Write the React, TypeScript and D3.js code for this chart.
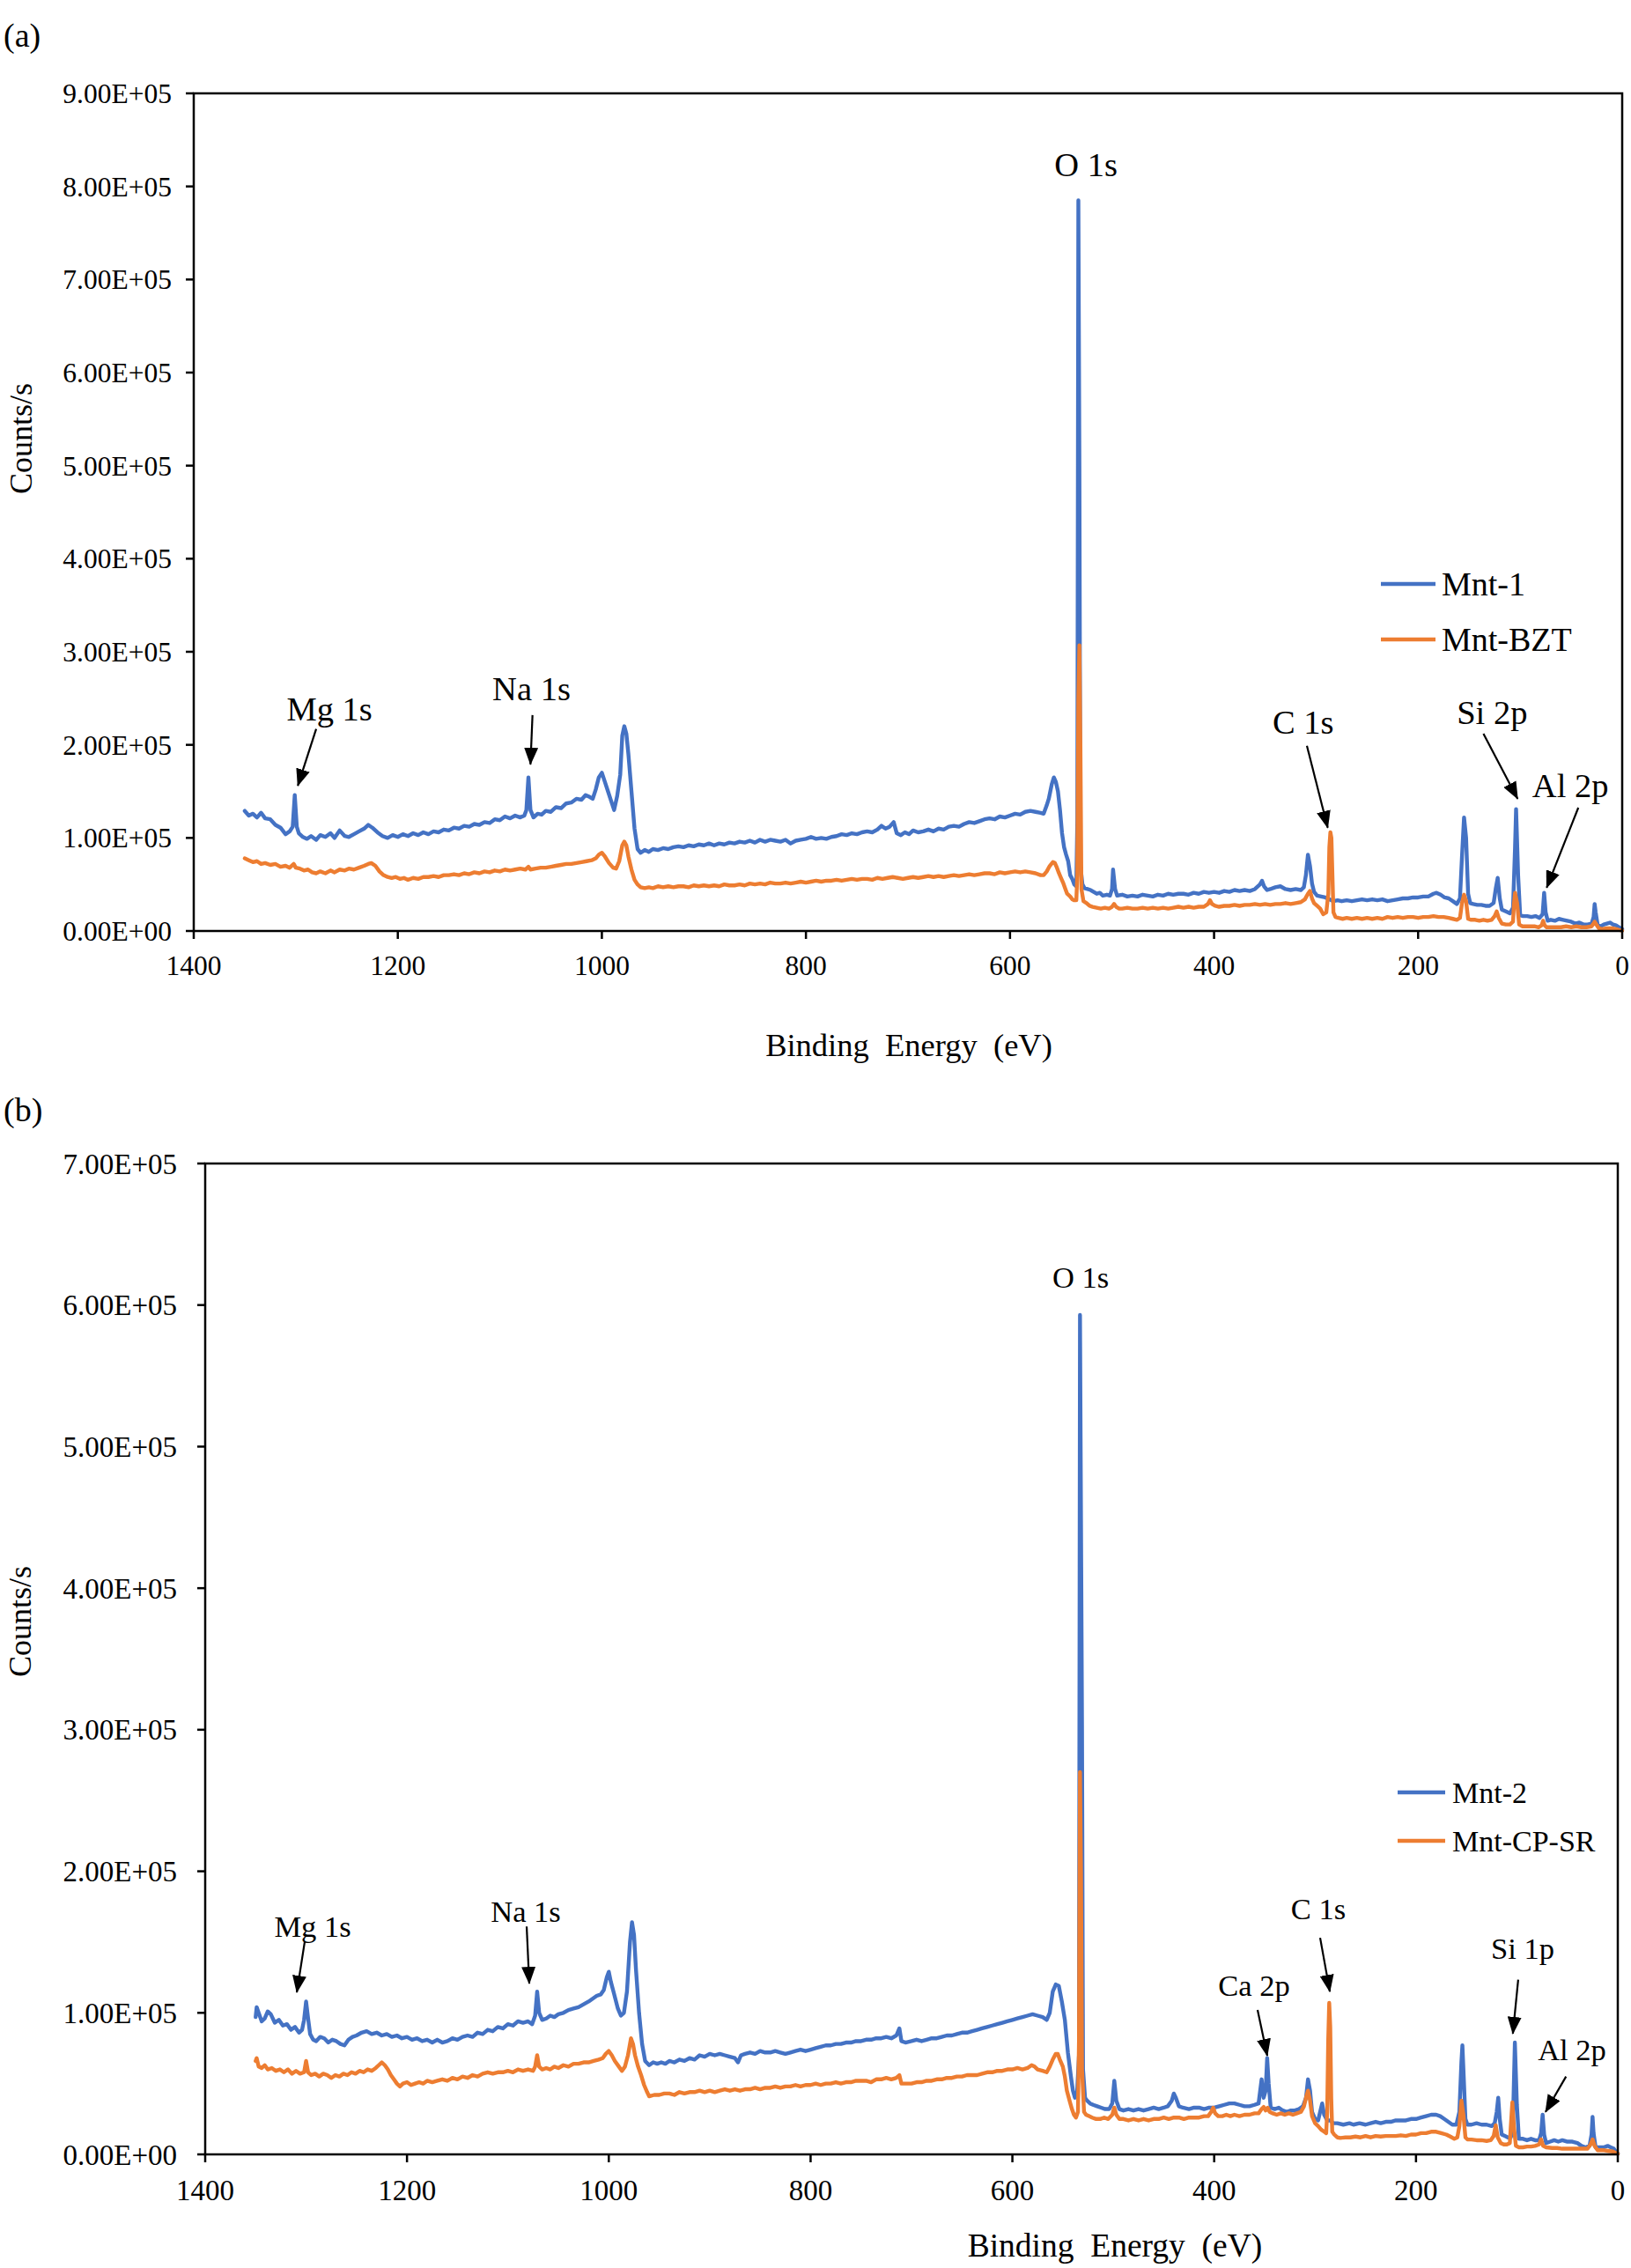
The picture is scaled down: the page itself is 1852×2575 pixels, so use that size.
import React from 'react';
import * as d3 from 'd3';

type Pt = [number, number]; // [binding energy (eV), counts/s in thousands]

// ---- panel (a) ----
const mnt1: Pt[] = [
  [1350, 129], [1346, 124], [1342, 126], [1338, 122], [1334, 127], [1330, 121], [1325, 120], [1320, 114], [1315, 111], [1310, 104],
  [1306, 107], [1303, 112], [1301, 146], [1299, 112], [1297, 105], [1293, 101], [1289, 99], [1285, 102], [1280, 98], [1276, 103],
  [1271, 101], [1266, 105], [1262, 100], [1257, 108], [1252, 102], [1248, 101], [1243, 104], [1238, 107], [1233, 110], [1229, 114],
  [1225, 111], [1220, 106], [1215, 102], [1210, 100], [1205, 103], [1200, 101], [1195, 104], [1190, 102], [1185, 105], [1180, 103],
  [1175, 106], [1170, 104], [1165, 107], [1160, 106], [1155, 109], [1150, 108], [1145, 111], [1140, 110], [1135, 113], [1130, 112],
  [1125, 115], [1120, 114], [1115, 117], [1110, 116], [1105, 120], [1100, 119], [1095, 123], [1090, 121], [1085, 124], [1080, 122],
  [1076, 124], [1074, 130], [1072, 165], [1070, 130], [1067, 122], [1063, 126], [1059, 125], [1055, 129], [1050, 128], [1045, 133],
  [1040, 132], [1035, 137], [1030, 138], [1025, 142], [1020, 141], [1016, 146], [1012, 144], [1009, 142], [1006, 152], [1003, 165],
  [1000, 170], [997, 160], [994, 150], [991, 140], [988, 130], [985, 145], [982, 168], [980, 210], [978, 220], [976, 212],
  [974, 190], [971, 150], [968, 110], [965, 88], [962, 84], [958, 87], [954, 85], [950, 88], [945, 87], [940, 89],
  [935, 88], [930, 90], [925, 91], [920, 90], [915, 92], [910, 91], [905, 93], [900, 92], [895, 94], [890, 92],
  [885, 94], [880, 93], [875, 95], [870, 94], [865, 96], [860, 95], [855, 97], [850, 95], [845, 98], [840, 96],
  [835, 98], [830, 97], [825, 96], [820, 98], [815, 94], [810, 97], [805, 98], [800, 99], [795, 101], [790, 99],
  [785, 100], [780, 99], [775, 101], [770, 102], [765, 104], [760, 103], [755, 105], [750, 104], [745, 106], [740, 107],
  [735, 106], [730, 109], [726, 113], [722, 110], [718, 112], [714, 117], [711, 105], [707, 103], [703, 106], [699, 104],
  [695, 108], [690, 106], [685, 107], [680, 109], [675, 107], [670, 110], [665, 109], [660, 112], [655, 113], [650, 112],
  [645, 115], [640, 117], [635, 116], [630, 118], [625, 120], [620, 121], [615, 120], [610, 123], [605, 122], [600, 124],
  [595, 126], [590, 125], [585, 128], [580, 129], [575, 128], [570, 127], [567, 126], [564, 135], [562, 142], [559, 158],
  [557, 165], [555, 160], [553, 150], [551, 130], [549, 105], [547, 90], [545, 82], [543, 75], [541, 60], [539, 56],
  [537, 50], [535, 48], [534, 120], [533, 785], [532, 500], [531, 70], [529, 50], [527, 46], [524, 45], [521, 44],
  [518, 42], [515, 40], [512, 41], [509, 38], [505, 39], [502, 38], [500, 45], [499, 66], [497, 45], [495, 38],
  [490, 39], [485, 37], [480, 38], [475, 37], [470, 39], [465, 38], [460, 37], [455, 39], [450, 38], [445, 40],
  [440, 39], [435, 40], [430, 40], [425, 39], [420, 41], [415, 40], [410, 42], [405, 41], [400, 42], [395, 41],
  [390, 43], [385, 42], [380, 44], [375, 43], [370, 44], [365, 43], [360, 45], [355, 50], [353, 54], [351, 48],
  [348, 44], [345, 45], [340, 47], [335, 48], [330, 45], [325, 44], [320, 45], [315, 44], [312, 47], [310, 60],
  [308, 82], [306, 70], [304, 51], [302, 42], [299, 38], [295, 37], [291, 36], [287, 34], [283, 32], [279, 33],
  [275, 32], [270, 33], [265, 32], [260, 33], [255, 34], [250, 33], [245, 34], [240, 33], [235, 34], [230, 32],
  [225, 33], [220, 34], [215, 35], [210, 35], [205, 36], [200, 36], [195, 37], [190, 37], [185, 40], [182, 41],
  [178, 39], [174, 36], [170, 35], [166, 32], [162, 29], [159, 35], [157, 80], [155, 122], [153, 100], [151, 40],
  [149, 30], [146, 29], [142, 28], [138, 28], [134, 27], [130, 27], [126, 30], [124, 45], [122, 57], [120, 35],
  [118, 23], [114, 21], [110, 19], [107, 25], [105, 90], [104, 131], [102, 60], [100, 17], [97, 16], [93, 16],
  [89, 15], [85, 16], [81, 14], [78, 18], [76.5, 41], [75, 20], [73, 11], [70, 12], [66, 11], [62, 13],
  [58, 12], [54, 11], [50, 10], [46, 8], [42, 9], [38, 7], [34, 7], [30, 8], [28, 15], [27, 29],
  [26, 20], [24, 6], [21, 5], [18, 7], [15, 8], [12, 9], [9, 7], [6, 6], [3, 4], [0, 2],
];

const mntBZT: Pt[] = [
  [1350, 78], [1346, 76], [1342, 74], [1338, 75], [1334, 72], [1330, 73], [1325, 71], [1320, 72], [1315, 69], [1310, 70],
  [1306, 68], [1302, 72], [1300, 68], [1296, 67], [1292, 65], [1288, 66], [1284, 63], [1280, 62], [1276, 64], [1271, 62],
  [1266, 65], [1262, 63], [1257, 66], [1252, 65], [1248, 67], [1243, 66], [1238, 68], [1233, 70], [1229, 72], [1226, 73],
  [1222, 70], [1218, 64], [1214, 60], [1210, 58], [1206, 57], [1202, 58], [1198, 56], [1194, 57], [1190, 55], [1185, 57],
  [1180, 56], [1175, 58], [1170, 58], [1165, 59], [1160, 58], [1155, 60], [1150, 60], [1145, 61], [1140, 60], [1135, 62],
  [1130, 61], [1125, 63], [1120, 62], [1115, 64], [1110, 63], [1105, 65], [1100, 64], [1095, 66], [1090, 65], [1085, 66],
  [1080, 67], [1075, 66], [1072, 69], [1070, 66], [1065, 67], [1060, 68], [1055, 68], [1050, 69], [1045, 70], [1040, 71],
  [1035, 72], [1030, 72], [1025, 73], [1020, 74], [1015, 75], [1010, 76], [1006, 78], [1003, 82], [1000, 84], [997, 80],
  [993, 73], [989, 68], [986, 67], [983, 75], [980, 92], [978, 96], [976, 92], [974, 80], [971, 66], [968, 55],
  [965, 50], [962, 47], [958, 46], [954, 47], [950, 46], [945, 48], [940, 47], [935, 48], [930, 47], [925, 48],
  [920, 48], [915, 47], [910, 49], [905, 48], [900, 49], [895, 48], [890, 49], [885, 48], [880, 50], [875, 49],
  [870, 49], [865, 50], [860, 49], [855, 51], [850, 50], [845, 51], [840, 50], [835, 52], [830, 51], [825, 51],
  [820, 52], [815, 51], [810, 52], [805, 53], [800, 52], [795, 53], [790, 54], [785, 53], [780, 54], [775, 54],
  [770, 55], [765, 54], [760, 55], [755, 56], [750, 55], [745, 56], [740, 56], [735, 55], [730, 57], [725, 56],
  [720, 57], [715, 58], [710, 57], [705, 56], [700, 57], [695, 58], [690, 57], [685, 58], [680, 59], [675, 58],
  [670, 59], [665, 58], [660, 59], [655, 60], [650, 59], [645, 60], [640, 61], [635, 60], [630, 61], [625, 62],
  [620, 62], [615, 61], [610, 63], [605, 62], [600, 63], [595, 64], [590, 63], [585, 64], [580, 63], [575, 62],
  [570, 60], [567, 60], [564, 64], [561, 70], [558, 74], [556, 73], [554, 68], [552, 62], [550, 57], [548, 52],
  [546, 46], [544, 40], [541, 37], [539, 34], [537, 33], [535, 33], [534, 60], [533, 250], [532, 307], [531, 200],
  [530, 45], [528, 32], [525, 30], [522, 27], [519, 26], [515, 25], [511, 24], [507, 25], [503, 24], [500, 26],
  [498, 29], [496, 26], [493, 24], [490, 24], [485, 25], [480, 24], [475, 24], [470, 25], [465, 24], [460, 25],
  [455, 24], [450, 25], [445, 24], [440, 25], [435, 26], [430, 25], [425, 26], [420, 25], [415, 26], [410, 26],
  [406, 29], [404, 33], [402, 29], [399, 27], [395, 26], [390, 27], [385, 27], [380, 28], [375, 27], [370, 28],
  [365, 28], [360, 29], [355, 28], [350, 29], [345, 28], [340, 29], [335, 29], [330, 30], [325, 29], [320, 30],
  [315, 31], [311, 34], [308, 40], [306, 43], [304, 35], [302, 30], [299, 27], [296, 24], [293, 18], [290, 20],
  [288, 40], [287, 90], [286, 106], [285, 100], [284, 60], [283, 20], [281, 15], [278, 14], [274, 13], [270, 14],
  [265, 13], [260, 14], [255, 13], [250, 14], [245, 13], [240, 14], [235, 13], [230, 15], [225, 14], [220, 15],
  [215, 14], [210, 15], [205, 15], [200, 14], [195, 15], [190, 15], [185, 16], [180, 15], [175, 15], [170, 14],
  [166, 13], [162, 12], [159, 14], [157, 30], [155, 39], [153, 32], [151, 13], [148, 12], [144, 12], [140, 11],
  [136, 12], [132, 11], [128, 12], [125, 16], [123, 21], [121, 14], [118, 8], [114, 7], [110, 7], [107, 10],
  [106, 30], [105, 41], [103, 30], [101, 7], [98, 5], [94, 5], [90, 5], [86, 5], [82, 4], [79, 6],
  [77.5, 11], [76, 6], [74, 4], [70, 4], [66, 4], [60, 4], [55, 5], [50, 4], [45, 5], [40, 4],
  [35, 4], [30, 5], [28, 8], [27, 10], [26, 8], [23, 3], [20, 2], [15, 3], [10, 3], [6, 2], [3, 1], [0, 0.5],
];

// ---- panel (b) ----
const mnt2: Pt[] = [
  [1350, 97], [1349, 104], [1347, 100], [1344, 94], [1341, 96], [1338, 101], [1335, 99], [1331, 93], [1327, 95], [1323, 91],
  [1319, 92], [1315, 88], [1311, 90], [1307, 86], [1304, 88], [1302, 95], [1300, 108], [1298, 96], [1296, 85], [1293, 81],
  [1290, 80], [1286, 83], [1282, 82], [1278, 79], [1274, 81], [1270, 80], [1266, 78], [1262, 77], [1258, 81], [1254, 83],
  [1250, 84], [1245, 86], [1240, 87], [1235, 85], [1230, 86], [1225, 84], [1220, 85], [1215, 83], [1210, 84], [1205, 82],
  [1200, 83], [1195, 81], [1190, 82], [1185, 80], [1180, 81], [1175, 79], [1170, 81], [1165, 79], [1160, 80], [1155, 82],
  [1150, 81], [1145, 83], [1140, 84], [1135, 83], [1130, 86], [1125, 85], [1120, 88], [1115, 87], [1110, 90], [1105, 89],
  [1100, 92], [1095, 91], [1090, 94], [1085, 93], [1080, 94], [1076, 92], [1073, 98], [1071, 115], [1069, 100], [1066, 95],
  [1062, 96], [1058, 98], [1054, 97], [1050, 99], [1045, 100], [1040, 102], [1035, 103], [1030, 104], [1025, 106], [1020, 108],
  [1016, 110], [1012, 112], [1008, 113], [1005, 116], [1002, 125], [1000, 129], [998, 122], [995, 114], [991, 103], [988, 98],
  [985, 100], [982, 115], [979, 150], [977, 164], [975, 155], [973, 130], [970, 100], [967, 78], [964, 66], [960, 63],
  [956, 65], [952, 64], [948, 65], [944, 64], [940, 66], [935, 65], [930, 67], [925, 66], [920, 68], [915, 67],
  [910, 70], [905, 69], [900, 71], [895, 70], [890, 71], [885, 70], [880, 69], [875, 68], [872, 65], [869, 70],
  [865, 71], [860, 72], [855, 71], [850, 73], [845, 72], [840, 72], [835, 73], [830, 72], [825, 71], [820, 72],
  [815, 73], [810, 74], [805, 73], [800, 74], [795, 75], [790, 76], [785, 77], [780, 77], [775, 78], [770, 78],
  [765, 79], [760, 79], [755, 80], [750, 80], [745, 81], [740, 81], [735, 82], [730, 82], [725, 83], [720, 82],
  [715, 84], [712, 89], [710, 80], [706, 79], [700, 80], [695, 81], [690, 80], [685, 81], [680, 82], [675, 82],
  [670, 83], [665, 84], [660, 84], [655, 85], [650, 86], [645, 86], [640, 87], [635, 88], [630, 89], [625, 90],
  [620, 91], [615, 92], [610, 93], [605, 94], [600, 95], [595, 96], [590, 97], [585, 98], [580, 99], [575, 98],
  [570, 97], [566, 95], [563, 100], [560, 115], [557, 120], [554, 119], [551, 108], [548, 95], [545, 72], [542, 55],
  [540, 45], [538, 40], [536, 42], [534, 70], [533, 593], [531, 300], [530, 60], [528, 40], [526, 38], [523, 36],
  [520, 35], [516, 34], [512, 33], [508, 32], [504, 32], [501, 36], [499, 52], [497, 38], [494, 32], [490, 31],
  [485, 32], [480, 31], [475, 32], [470, 31], [465, 32], [460, 33], [455, 32], [450, 33], [446, 34], [442, 38],
  [440, 43], [438, 40], [435, 34], [431, 33], [425, 32], [420, 33], [415, 33], [410, 32], [405, 33], [400, 33],
  [395, 34], [390, 35], [385, 36], [380, 36], [375, 35], [370, 34], [365, 34], [360, 35], [356, 36], [353, 53],
  [351, 40], [349, 45], [347.5, 68], [346, 50], [344, 33], [340, 32], [336, 33], [332, 31], [328, 30], [324, 31],
  [320, 31], [316, 32], [312, 34], [309, 40], [307, 53], [305, 45], [303, 30], [300, 25], [297, 24], [295, 30],
  [293, 36], [291, 28], [288, 24], [285, 24], [282, 22], [278, 22], [272, 21], [266, 22], [262, 21], [256, 22],
  [250, 21], [245, 22], [240, 23], [235, 22], [230, 23], [225, 23], [220, 24], [215, 24], [210, 24], [205, 25],
  [200, 25], [195, 26], [190, 27], [185, 28], [180, 28], [176, 27], [172, 25], [168, 23], [164, 21], [160, 21],
  [157, 30], [155, 65], [154, 77], [153, 60], [151, 25], [149, 21], [145, 21], [140, 22], [135, 21], [130, 21],
  [125, 20], [122, 22], [120, 30], [118.5, 40], [117, 25], [115, 14], [112, 13], [109, 12], [106, 12], [104, 20],
  [102, 79], [100, 35], [98, 11], [94, 11], [90, 10], [86, 11], [82, 10], [78, 10], [76, 15], [74.5, 28],
  [73, 14], [71, 8], [67, 9], [63, 10], [59, 9], [55, 10], [50, 9], [45, 9], [40, 8], [36, 6],
  [32, 5], [28, 6], [26, 14], [25, 26.5], [24, 15], [22, 5], [18, 5], [14, 5], [10, 6], [7, 5], [4, 4], [2, 2], [0, 0.5],
];

const mntCPSR: Pt[] = [
  [1350, 66], [1349, 68], [1347, 62], [1344, 61], [1341, 63], [1338, 60], [1334, 61], [1330, 59], [1326, 60], [1322, 58],
  [1318, 60], [1314, 57], [1310, 59], [1306, 57], [1302, 58], [1300, 66], [1298, 58], [1295, 56], [1291, 57], [1287, 55],
  [1283, 57], [1279, 56], [1275, 54], [1271, 56], [1267, 55], [1263, 57], [1259, 56], [1255, 58], [1251, 57], [1247, 59],
  [1243, 58], [1239, 60], [1235, 59], [1231, 61], [1228, 63], [1225, 65], [1222, 63], [1219, 60], [1216, 56], [1213, 53],
  [1210, 50], [1207, 48], [1204, 50], [1200, 51], [1196, 49], [1192, 50], [1188, 51], [1184, 50], [1180, 52], [1175, 51],
  [1170, 52], [1165, 53], [1160, 52], [1155, 54], [1150, 53], [1145, 55], [1140, 54], [1135, 56], [1130, 55], [1125, 57],
  [1120, 58], [1115, 57], [1110, 58], [1105, 58], [1100, 59], [1095, 58], [1090, 60], [1085, 59], [1080, 60], [1075, 59],
  [1073, 62], [1071, 70], [1069, 62], [1066, 60], [1062, 61], [1058, 60], [1054, 62], [1050, 61], [1045, 63], [1040, 62],
  [1035, 64], [1030, 64], [1025, 65], [1020, 65], [1015, 66], [1010, 67], [1006, 68], [1003, 71], [1000, 73], [997, 70],
  [994, 66], [990, 62], [987, 59], [984, 62], [981, 70], [978, 82], [976, 78], [974, 70], [971, 62], [968, 56],
  [965, 49], [962, 44], [960, 41], [955, 42], [950, 42], [945, 43], [940, 43], [935, 42], [930, 44], [925, 43],
  [920, 44], [915, 44], [910, 45], [905, 44], [900, 45], [895, 44], [890, 45], [885, 46], [880, 45], [875, 46],
  [870, 45], [865, 46], [860, 46], [855, 47], [850, 46], [845, 47], [840, 47], [835, 48], [830, 47], [825, 48],
  [820, 48], [815, 49], [810, 48], [805, 49], [800, 49], [795, 50], [790, 49], [785, 50], [780, 50], [775, 51],
  [770, 50], [765, 51], [760, 51], [755, 52], [750, 52], [745, 52], [740, 51], [735, 53], [730, 53], [725, 54],
  [720, 53], [715, 54], [712, 56], [710, 50], [706, 50], [700, 50], [695, 51], [690, 51], [685, 52], [680, 52],
  [675, 53], [670, 53], [665, 54], [660, 54], [655, 55], [650, 55], [645, 56], [640, 56], [635, 56], [630, 57],
  [625, 58], [620, 58], [615, 59], [610, 59], [605, 60], [600, 60], [595, 61], [590, 60], [585, 61], [581, 63],
  [578, 62], [575, 60], [570, 59], [566, 58], [563, 62], [560, 67], [557, 71], [555, 71], [553, 67], [550, 62],
  [548, 55], [546, 45], [543, 37], [541, 32], [539, 28], [537, 26], [535, 30], [534, 80], [533, 270], [532, 200],
  [531, 60], [529, 30], [527, 28], [524, 27], [521, 26], [517, 25], [513, 25], [509, 26], [505, 25], [501, 28],
  [499, 33], [497, 28], [494, 25], [490, 25], [485, 24], [480, 25], [475, 24], [470, 25], [465, 24], [460, 25],
  [455, 25], [450, 26], [445, 25], [440, 26], [435, 26], [430, 25], [425, 26], [420, 26], [415, 26], [410, 27],
  [406, 27], [403, 30], [401, 33], [399, 29], [396, 27], [392, 27], [388, 28], [384, 27], [380, 28], [375, 27],
  [370, 28], [365, 28], [360, 29], [356, 29], [353, 32], [351, 33.5], [349, 31], [347, 33], [345, 30], [342, 29],
  [338, 28], [334, 29], [330, 28], [326, 29], [322, 28], [318, 29], [314, 30], [311, 34], [309, 40], [307, 45],
  [305, 38], [303, 27], [300, 22], [297, 20], [294, 17.5], [291, 16], [289, 15], [288, 30], [287, 80], [286, 107],
  [285, 90], [284, 40], [283, 16], [281, 14], [278, 12], [275, 11.6], [270, 12], [265, 12], [260, 12.6], [255, 12],
  [250, 13], [245, 12], [240, 13], [235, 12.6], [230, 13], [225, 13], [220, 13], [215, 13.5], [210, 13], [205, 14],
  [200, 14], [195, 15], [190, 15], [185, 16], [180, 16], [175, 15], [170, 14], [166, 12.6], [162, 11], [159, 12],
  [157, 20], [155, 38], [153, 28], [151, 12], [149, 10.6], [145, 10.5], [140, 10], [135, 10], [130, 9.5], [126, 10],
  [123, 13], [121, 20.6], [119, 12], [116, 8], [113, 7], [110, 7], [107, 8], [106, 20], [104.5, 36.8], [103, 20],
  [101, 6], [98, 5], [94, 5], [90, 5.5], [86, 5.5], [82, 6], [78, 7], [76, 10.6], [74, 6], [71, 5],
  [65, 4.5], [60, 4.5], [55, 4], [50, 4], [45, 4], [40, 4], [35, 4], [30, 4], [27, 7], [25, 10.6],
  [23, 6], [20, 3], [15, 3], [10, 2.5], [5, 2], [0, 0.5],
];

const xTicks = [1400, 1200, 1000, 800, 600, 400, 200, 0];
const yTicksA = [0, 1e5, 2e5, 3e5, 4e5, 5e5, 6e5, 7e5, 8e5, 9e5];
const yTicksB = [0, 1e5, 2e5, 3e5, 4e5, 5e5, 6e5, 7e5];

type Note = { text: string; at: Pt; from?: Pt; to?: Pt };

// label anchor (eV, k counts) and arrow tail/head in data units
const notesA: Note[] = [
  { text: 'O 1s', at: [525.5, 811] },
  { text: 'Mg 1s', at: [1267, 226], from: [1280, 217], to: [1298, 156] },
  { text: 'Na 1s', at: [1069, 248], from: [1068, 232], to: [1070, 179] },
  { text: 'C 1s', at: [312.7, 212], from: [309, 199], to: [288.6, 111] },
  { text: 'Si 2p', at: [127.5, 222], from: [136, 212], to: [102.5, 142] },
  { text: 'Al 2p', at: [50.8, 144], from: [43, 132.5], to: [74, 46.5] },
];

const notesB: Note[] = [
  { text: 'O 1s', at: [532.4, 612] },
  { text: 'Mg 1s', at: [1293.5, 154], from: [1301.4, 150], to: [1309.2, 114.5] },
  { text: 'Na 1s', at: [1082.3, 164], from: [1081.4, 161], to: [1078.8, 120.7] },
  { text: 'Ca 2p', at: [360.5, 112], from: [357, 102], to: [347.4, 69.7] },
  { text: 'C 1s', at: [296.8, 166], from: [295, 153], to: [285.4, 115] },
  { text: 'Si 1p', at: [94.3, 138], from: [98.7, 123.5], to: [104, 85.3] },
  { text: 'Al 2p', at: [45.4, 66.6], from: [51.3, 55], to: [71.6, 30] },
];

const FONT = '"Liberation Serif", "Times New Roman", Times, serif';
const BLUE = '#4472C4';
const ORANGE = '#ED7D31';

type PanelCfg = {
  id: string;
  tag: string;
  tagY: number;
  left: number;
  right: number;
  top: number;
  bottom: number;
  yMax: number;
  yTicks: number[];
  series: { name: string; color: string; pts: Pt[] }[];
  notes: Note[];
  tickFont: number;
  yLabelGap: number;
  xLabelDy: number;
  noteFont: number;
  legend: { x1: number; x2: number; tx: number; y: number[]; font: number };
  xTitle: { x: number; y: number; font: number };
  yTitle: { x: number; y: number; font: number };
};

const fmt = (v: number) => (v === 0 ? '0.00E+00' : `${(v / 1e5).toFixed(2)}E+05`);

function Panel({ cfg }: { cfg: PanelCfg }) {
  const x = d3.scaleLinear().domain([1400, 0]).range([cfg.left, cfg.right]);
  const y = d3.scaleLinear().domain([0, cfg.yMax]).range([cfg.bottom, cfg.top]);
  const line = d3
    .line<Pt>()
    .x((d) => x(d[0]))
    .y((d) => y(d[1] * 1000));

  return (
    <g>
      <text x={4} y={cfg.tagY} fontSize={38}>
        {cfg.tag}
      </text>

      {/* series: blue first, orange on top */}
      {cfg.series.map((s) => (
        <path
          key={s.name}
          d={line(s.pts) || ''}
          fill="none"
          stroke={s.color}
          strokeWidth={4.4}
          strokeLinejoin="round"
          strokeLinecap="round"
        />
      ))}

      {/* plot frame */}
      <rect
        x={cfg.left}
        y={cfg.top}
        width={cfg.right - cfg.left}
        height={cfg.bottom - cfg.top}
        fill="none"
        stroke="#000"
        strokeWidth={2.5}
      />

      {/* y axis */}
      {cfg.yTicks.map((t) => (
        <g key={'y' + t}>
          <line x1={cfg.left - 9} x2={cfg.left} y1={y(t)} y2={y(t)} stroke="#000" strokeWidth={2.5} />
          <text
            x={cfg.left - cfg.yLabelGap}
            y={y(t)}
            dy="0.35em"
            textAnchor="end"
            fontSize={cfg.tickFont}
          >
            {fmt(t)}
          </text>
        </g>
      ))}

      {/* x axis */}
      {xTicks.map((t) => (
        <g key={'x' + t}>
          <line x1={x(t)} x2={x(t)} y1={cfg.bottom} y2={cfg.bottom + 9} stroke="#000" strokeWidth={2.5} />
          <text x={x(t)} y={cfg.bottom + cfg.xLabelDy} textAnchor="middle" fontSize={cfg.tickFont}>
            {t}
          </text>
        </g>
      ))}

      {/* peak labels */}
      {cfg.notes.map((n) => (
        <g key={n.text}>
          <text x={x(n.at[0])} y={y(n.at[1] * 1000)} textAnchor="middle" fontSize={cfg.noteFont}>
            {n.text}
          </text>
          {n.from && n.to && (
            <line
              x1={x(n.from[0])}
              y1={y(n.from[1] * 1000)}
              x2={x(n.to[0])}
              y2={y(n.to[1] * 1000)}
              stroke="#000"
              strokeWidth={2.2}
              markerEnd={`url(#head-${cfg.id})`}
            />
          )}
        </g>
      ))}

      {/* legend */}
      {cfg.series.map((s, i) => (
        <g key={'lg' + s.name}>
          <line
            x1={cfg.legend.x1}
            x2={cfg.legend.x2}
            y1={cfg.legend.y[i]}
            y2={cfg.legend.y[i]}
            stroke={s.color}
            strokeWidth={4.4}
          />
          <text x={cfg.legend.tx} y={cfg.legend.y[i]} dy="0.35em" fontSize={cfg.legend.font}>
            {s.name}
          </text>
        </g>
      ))}

      {/* axis titles */}
      <text
        x={cfg.xTitle.x}
        y={cfg.xTitle.y}
        textAnchor="middle"
        fontSize={cfg.xTitle.font}
        style={{ whiteSpace: 'pre' }}
      >
        {'Binding  Energy  (eV)'}
      </text>
      <text
        transform={`translate(${cfg.yTitle.x},${cfg.yTitle.y}) rotate(-90)`}
        textAnchor="middle"
        dy="0.35em"
        fontSize={cfg.yTitle.font}
      >
        Counts/s
      </text>
    </g>
  );
}

const panelA: PanelCfg = {
  id: 'a',
  tag: '(a)',
  tagY: 53,
  left: 220,
  right: 1842,
  top: 106,
  bottom: 1057,
  yMax: 9e5,
  yTicks: yTicksA,
  series: [
    { name: 'Mnt-1', color: BLUE, pts: mnt1 },
    { name: 'Mnt-BZT', color: ORANGE, pts: mntBZT },
  ],
  notes: notesA,
  tickFont: 31.5,
  yLabelGap: 25,
  xLabelDy: 50,
  noteFont: 38.5,
  legend: { x1: 1568, x2: 1630, tx: 1637, y: [663, 726], font: 38 },
  xTitle: { x: 1032, y: 1199, font: 36.5 },
  yTitle: { x: 23, y: 498, font: 36 },
};

const panelB: PanelCfg = {
  id: 'b',
  tag: '(b)',
  tagY: 1273,
  left: 233,
  right: 1837,
  top: 1321,
  bottom: 2446,
  yMax: 7e5,
  yTicks: yTicksB,
  series: [
    { name: 'Mnt-2', color: BLUE, pts: mnt2 },
    { name: 'Mnt-CP-SR', color: ORANGE, pts: mntCPSR },
  ],
  notes: notesB,
  tickFont: 33,
  yLabelGap: 32,
  xLabelDy: 52,
  noteFont: 34.5,
  legend: { x1: 1587, x2: 1641, tx: 1649, y: [2035, 2090], font: 34 },
  xTitle: { x: 1266, y: 2562, font: 37.5 },
  yTitle: { x: 22, y: 1841, font: 36 },
};

export default function App() {
  return (
    <svg
      width={1852}
      height={2575}
      viewBox="0 0 1852 2575"
      style={{ position: 'absolute', left: 0, top: 0, background: '#fff' }}
      fontFamily={FONT}
      fill="#000"
    >
      <defs>
        {['a', 'b'].map((id) => (
          <marker
            key={id}
            id={`head-${id}`}
            markerUnits="userSpaceOnUse"
            markerWidth={20}
            markerHeight={16}
            refX={19}
            refY={8}
            orient="auto"
          >
            <path d="M0,0 L20,8 L0,16 Z" fill="#000" />
          </marker>
        ))}
      </defs>
      <rect width={1852} height={2575} fill="#fff" />
      <Panel cfg={panelA} />
      <Panel cfg={panelB} />
    </svg>
  );
}
